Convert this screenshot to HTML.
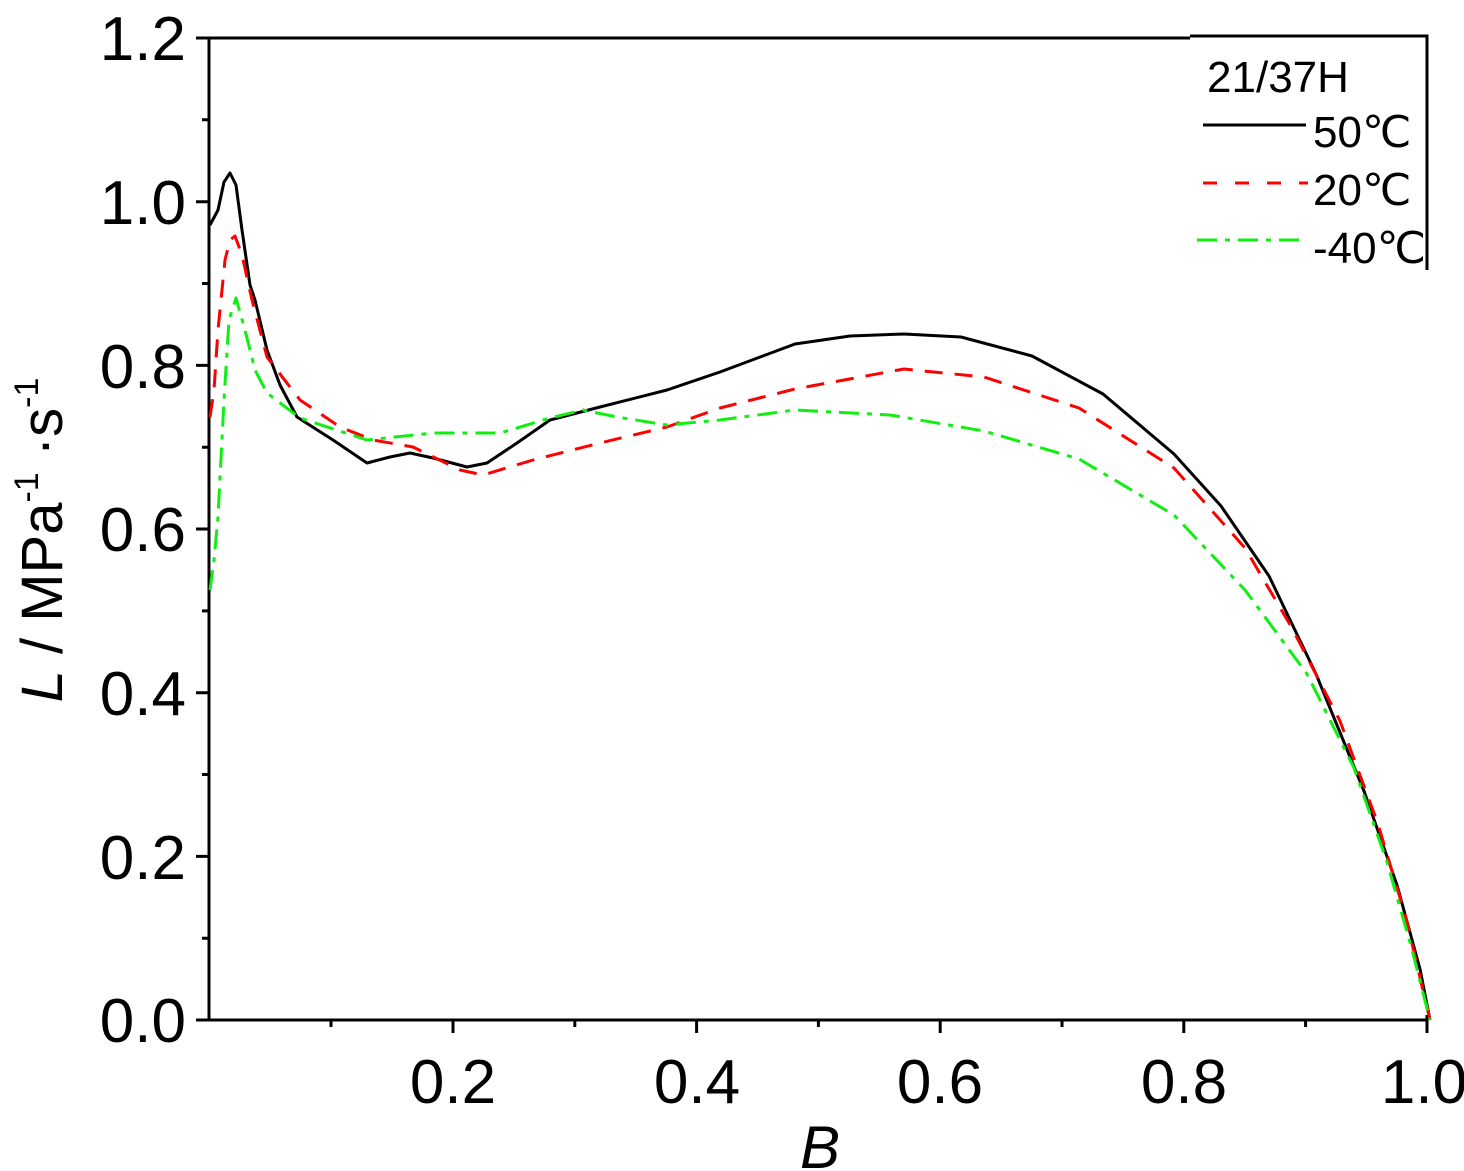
<!DOCTYPE html>
<html><head><style>body{margin:0;background:#fff}svg{display:block}</style></head><body>
<svg width="1464" height="1171" xmlns="http://www.w3.org/2000/svg" font-family="Liberation Sans, sans-serif">
<rect width="1464" height="1171" fill="#fff"/>
<g stroke="#000" stroke-width="3" fill="none">
<path d="M209,38 H1190 M1190,36 H1427 V270 M209,38 V1020 H1427 V1015"/>
<path d="M196,38H209 M196,201.7H209 M196,365.4H209 M196,529H209 M196,692.7H209 M196,856.4H209 M196,1020H209"/>
<path d="M202,119.8H209 M202,283.5H209 M202,447.2H209 M202,610.9H209 M202,774.5H209 M202,938.2H209"/>
<path d="M453,1020V1033 M696.6,1020V1033 M940.2,1020V1033 M1183.8,1020V1033 M1427,1020V1033"/>
<path d="M331,1020V1027 M574.8,1020V1027 M818.4,1020V1027 M1062,1020V1027 M1305.6,1020V1027"/>
</g>
<g font-size="62" text-anchor="end">
<text x="186" y="60">1.2</text><text x="186" y="224">1.0</text><text x="186" y="388">0.8</text>
<text x="186" y="551">0.6</text><text x="186" y="715">0.4</text><text x="186" y="879">0.2</text><text x="186" y="1042">0.0</text>
</g>
<g font-size="62" text-anchor="middle">
<text x="453" y="1103">0.2</text><text x="697" y="1103">0.4</text><text x="940" y="1103">0.6</text><text x="1184" y="1103">0.8</text><text x="1424" y="1103">1.0</text>
</g>
<text x="820" y="1168" font-size="60" font-style="italic" text-anchor="middle">B</text>
<text transform="translate(62,540) rotate(-90)" font-size="58" text-anchor="middle"><tspan font-style="italic">L</tspan> / MPa<tspan font-size="34" dy="-24">-1</tspan><tspan dy="24"> ·s</tspan><tspan font-size="34" dy="-24">-1</tspan></text>
<g fill="none" stroke-width="3" stroke-linejoin="round">
<polyline stroke="#000" points="210,225 218,210 224,182 230,173 236,185 242,230 250,285 255,300 267,350 280,385 297,417 333,440 367,463 390,457 410,453 433,458 467,467 487,463 517,443 550,420 600,407 667,390 720,372 795,344 850,336 904,334 961,337 1032,356 1103,394 1174,454 1221,506 1269,576 1316,674 1364,791 1397,885 1420,969 1430,1020"/>
<polyline stroke="#f00" stroke-dasharray="18,12" points="210,417 214,390 218,330 225,260 230,240 235,236 242,255 252,300 267,357 300,400 340,427 373,440 413,447 460,470 483,475 533,460 600,443 667,427 720,408 795,389 904,369 984,377 1079,408 1174,468 1245,548 1292,628 1340,721 1378,824 1406,918 1430,1020"/>
<polyline stroke="#1e1" stroke-dasharray="20,8,5,8" points="210,590 214,560 218,517 224,400 229,320 236,298 245,330 255,370 267,393 300,418 367,440 433,433 500,433 550,418 583,410 617,417 667,425 720,420 795,410 890,415 984,431 1079,459 1174,515 1245,590 1307,674 1354,768 1387,862 1411,946 1430,1020"/>
<line x1="1203" y1="125" x2="1306" y2="125" stroke="#000"/>
<line x1="1203" y1="183" x2="1308" y2="183" stroke="#f00" stroke-dasharray="14,18"/>
<line x1="1197" y1="240" x2="1300" y2="240" stroke="#1e1" stroke-dasharray="20,8,5,8"/>
</g>
<text x="1278" y="92" font-size="44" text-anchor="middle">21/37H</text>
<g font-size="44">
<text x="1313" y="147">50℃</text><text x="1313" y="205">20℃</text><text x="1313" y="263">-40℃</text>
</g>
</svg>
</body></html>
